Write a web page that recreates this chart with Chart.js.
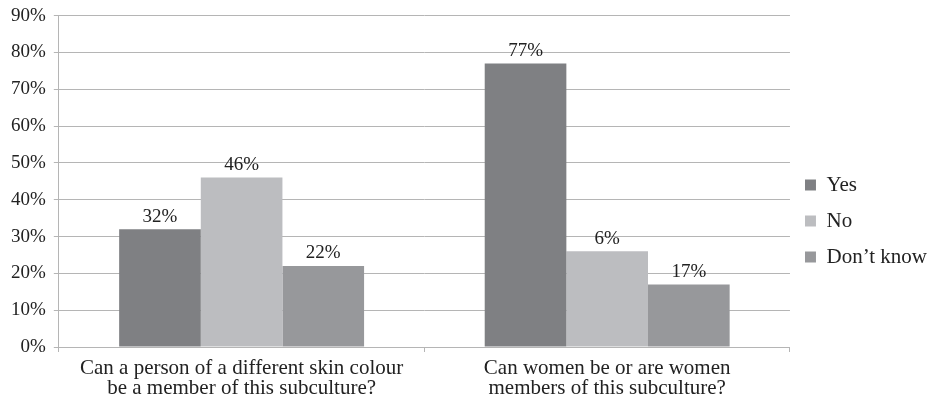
<!DOCTYPE html>
<html>
<head>
<meta charset="utf-8">
<script src="https://cdn.jsdelivr.net/npm/chart.js@4"></script>
<style>
  html, body { margin: 0; padding: 0; background: #fff; }
  #wrap { width: 937px; height: 404px; }
</style>
</head>
<body>
<div id="wrap"><canvas id="myChart"></canvas></div>
<script>
  const categories = [
    ["Can a person of a different skin colour", "be a member of this subculture?"],
    ["Can women be or are women", "members of this subculture?"],
  ]
  const yesValues = [32, 77]
  const noValues = [46, 26]
  const dontKnowValues = [22, 17]
  // labels as printed on the original (second "No" bar is labelled 6%)
  const yesLabels = ["32%", "77%"]
  const noLabels = ["46%", "6%"]
  const dontKnowLabels = ["22%", "17%"]
  const yTicks = [0, 10, 20, 30, 40, 50, 60, 70, 80, 90]

  const ctx = document.getElementById("myChart")
  const serif = "'Liberation Serif', 'DejaVu Serif', serif"

  // bar value labels
  const barLabels = {
    id: "barLabels",
    afterDatasetsDraw(chart) {
      const c = chart.ctx
      c.save()
      c.font = "19px " + serif
      c.fillStyle = "#222"
      c.textAlign = "center"
      c.textBaseline = "bottom"
      chart.data.datasets.forEach((ds, i) => {
        chart.getDatasetMeta(i).data.forEach((bar, j) => {
          c.fillText(ds.valueLabels[j], bar.x, bar.y - 3)
        })
      })
      c.restore()
    },
  }

  new Chart(ctx, {
    type: "bar",
    data: {
      labels: categories,
      datasets: [
        { label: "Yes", data: yesValues, valueLabels: yesLabels, backgroundColor: "#7f8083" },
        { label: "No", data: noValues, valueLabels: noLabels, backgroundColor: "#bcbdc0" },
        { label: "Don\u2019t know", data: dontKnowValues, valueLabels: dontKnowLabels, backgroundColor: "#97989b" },
      ],
    },
    options: {
      responsive: true,
      maintainAspectRatio: false,
      animation: false,
      layout: { padding: { top: 2, right: 0, left: 3, bottom: 0 } },
      datasets: { bar: { categoryPercentage: 0.67, barPercentage: 1.0 } },
      scales: {
        x: {
          grid: { drawOnChartArea: false, drawTicks: true, tickLength: 5, color: "#b5b5b5" },
          border: { color: "#b5b5b5" },
          ticks: {
            color: "#222",
            font: { family: serif, size: 21, lineHeight: "20px" },
            padding: 6,
            maxRotation: 0,
          },
        },
        y: {
          min: 0,
          max: 90,
          afterBuildTicks: (axis) => { axis.ticks = yTicks.map((v) => ({ value: v })) },
          grid: { color: "#b5b5b5", tickLength: 5 },
          border: { color: "#b5b5b5" },
          ticks: {
            color: "#222",
            font: { family: serif, size: 19, lineHeight: 0.8 },
            padding: 8,
            callback: (v) => v + "%",
          },
        },
      },
      plugins: {
        legend: {
          position: "right",
          title: { display: true, text: "", padding: 6, font: { size: 20 } },
          labels: {
            color: "#222",
            font: { family: serif, size: 21 },
            boxWidth: 11,
            boxHeight: 11,
            padding: 15,
          },
        },
        tooltip: { enabled: false },
      },
    },
    plugins: [barLabels],
  })
</script>
</body>
</html>
